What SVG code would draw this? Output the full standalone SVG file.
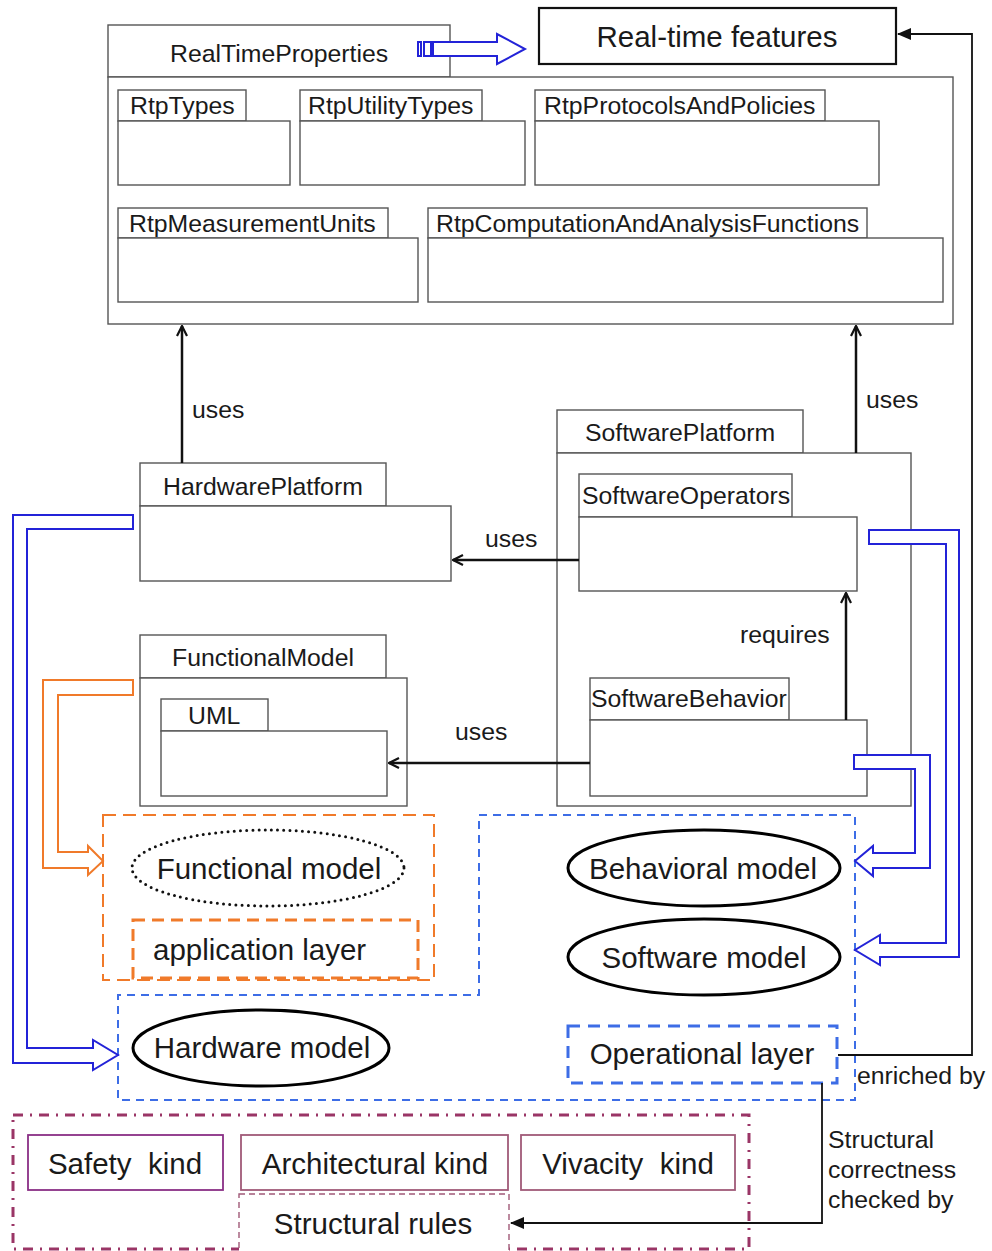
<svg xmlns="http://www.w3.org/2000/svg" width="992" height="1251" viewBox="0 0 992 1251">
<style>
.pk{fill:#fff;stroke:#555;stroke-width:1.4}
.t{font-family:"Liberation Sans",Arial,sans-serif;fill:#1a1a1a}
.s{font-size:24.8px}
.b{font-size:29.5px}
.ln{fill:none;stroke:#111;stroke-width:2.5}
.ln2{fill:none;stroke:#111;stroke-width:1.8}
.bar{fill:#fff;stroke:#2323d8;stroke-width:2}
.oar{fill:#fff;stroke:#f07a2a;stroke-width:2}
.ell{fill:#fff;stroke:#000;stroke-width:3}
</style>
<defs>
<marker id="open" viewBox="0 0 12 12" refX="11" refY="6" markerWidth="12" markerHeight="12" markerUnits="userSpaceOnUse" orient="auto">
<path d="M1,1 L11,6 L1,11" fill="none" stroke="#111" stroke-width="2.2"/>
</marker>
<marker id="fill" viewBox="0 0 14 12" refX="13" refY="6" markerWidth="14" markerHeight="12" markerUnits="userSpaceOnUse" orient="auto">
<path d="M0,0 L14,6 L0,12 Z" fill="#111"/>
</marker>
</defs>
<rect width="992" height="1251" fill="#fff"/>

<g id="RealTimeProperties">
<rect class="pk" x="108" y="25" width="342" height="52"/>
<rect class="pk" x="108" y="77" width="845" height="247"/>
<text class="t s" x="170" y="62">RealTimeProperties</text>
</g>
<g id="RtpTypes">
<rect class="pk" x="118" y="90" width="128" height="31"/>
<rect class="pk" x="118" y="121" width="172" height="64"/>
<text class="t s" x="130" y="114">RtpTypes</text>
</g>
<g id="RtpUtilityTypes">
<rect class="pk" x="300" y="90" width="182" height="31"/>
<rect class="pk" x="300" y="121" width="225" height="64"/>
<text class="t s" x="308" y="114">RtpUtilityTypes</text>
</g>
<g id="RtpProtocolsAndPolicies">
<rect class="pk" x="535" y="90" width="290" height="31"/>
<rect class="pk" x="535" y="121" width="344" height="64"/>
<text class="t s" x="544" y="114">RtpProtocolsAndPolicies</text>
</g>
<g id="RtpMeasurementUnits">
<rect class="pk" x="118" y="208" width="270" height="30"/>
<rect class="pk" x="118" y="238" width="300" height="64"/>
<text class="t s" x="129" y="232">RtpMeasurementUnits</text>
</g>
<g id="RtpComputationAndAnalysisFunctions">
<rect class="pk" x="428" y="208" width="439" height="30"/>
<rect class="pk" x="428" y="238" width="515" height="64"/>
<text class="t s" x="436" y="232">RtpComputationAndAnalysisFunctions</text>
</g>

<g id="RealTimeFeatures">
<rect x="539" y="8" width="357" height="56" fill="#fff" stroke="#111" stroke-width="2.2"/>
<text class="t" font-size="29.5" x="717" y="47" text-anchor="middle">Real-time features</text>
</g>

<g id="HardwarePlatform">
<rect class="pk" x="140" y="463" width="246" height="43"/>
<rect class="pk" x="140" y="506" width="311" height="75"/>
<text class="t s" x="163" y="495">HardwarePlatform</text>
</g>
<g id="FunctionalModel">
<rect class="pk" x="140" y="635" width="246" height="43"/>
<rect class="pk" x="140" y="678" width="267" height="128"/>
<text class="t s" x="172" y="666">FunctionalModel</text>
</g>
<g id="UML">
<rect class="pk" x="161" y="699" width="107" height="32"/>
<rect class="pk" x="161" y="731" width="226" height="65"/>
<text class="t s" x="188" y="724">UML</text>
</g>
<g id="SoftwarePlatform">
<rect class="pk" x="557" y="410" width="246" height="43"/>
<rect class="pk" x="557" y="453" width="354" height="353"/>
<text class="t s" x="585" y="441">SoftwarePlatform</text>
</g>
<g id="SoftwareOperators">
<rect class="pk" x="579" y="474" width="213" height="43"/>
<rect class="pk" x="579" y="517" width="278" height="74"/>
<text class="t s" x="582" y="504">SoftwareOperators</text>
</g>
<g id="SoftwareBehavior">
<rect class="pk" x="590" y="678" width="199" height="42"/>
<rect class="pk" x="590" y="720" width="277" height="76"/>
<text class="t s" x="591" y="707">SoftwareBehavior</text>
</g>

<g id="ApplicationArea">
<rect x="103" y="815" width="331" height="165" fill="none" stroke="#f07a2a" stroke-width="2" stroke-dasharray="13 7"/>
</g>
<g id="FunctionalModelEllipse">
<ellipse cx="268" cy="868" rx="136" ry="38" fill="none" stroke="#111" stroke-width="3" stroke-dasharray="0 6.2" stroke-linecap="round"/>
<text class="t b" x="269" y="879" text-anchor="middle">Functional model</text>
</g>
<g id="ApplicationLayer">
<rect x="133" y="920" width="285" height="58" fill="none" stroke="#f07a2a" stroke-width="3" stroke-dasharray="12 7"/>
<text class="t b" x="153" y="960">application layer</text>
</g>

<g id="OperationalArea">
<path d="M479,815 H855 V1100 H118 V995 H479 Z" fill="none" stroke="#3d6de6" stroke-width="2" stroke-dasharray="8 6"/>
</g>
<g id="BehavioralModel">
<ellipse class="ell" cx="704" cy="868" rx="136" ry="38"/>
<text class="t b" x="703" y="879" text-anchor="middle">Behavioral model</text>
</g>
<g id="SoftwareModel">
<ellipse class="ell" cx="704" cy="957" rx="136" ry="38"/>
<text class="t b" x="704" y="968" text-anchor="middle">Software model</text>
</g>
<g id="HardwareModel">
<ellipse class="ell" cx="261" cy="1048" rx="128" ry="38"/>
<text class="t b" x="262" y="1058" text-anchor="middle">Hardware model</text>
</g>
<g id="OperationalLayer">
<rect x="568" y="1026" width="269" height="57" fill="#fff" stroke="#3d6de6" stroke-width="3" stroke-dasharray="12 8"/>
<text class="t b" x="702" y="1064" text-anchor="middle">Operational layer</text>
</g>

<g id="RulesArea">
<rect x="13" y="1115" width="736" height="134" fill="none" stroke="#9a3566" stroke-width="3" stroke-dasharray="10 7 2 7"/>
</g>
<g id="SafetyKind">
<rect x="28" y="1135" width="195" height="55" fill="#fff" stroke="#8a2f86" stroke-width="1.8"/>
<text class="t b" x="125" y="1174" text-anchor="middle" xml:space="preserve">Safety  kind</text>
</g>
<g id="ArchitecturalKind">
<rect x="241" y="1135" width="267" height="55" fill="#fff" stroke="#a05a78" stroke-width="1.8"/>
<text class="t b" x="375" y="1174" text-anchor="middle">Architectural kind</text>
</g>
<g id="VivacityKind">
<rect x="521" y="1135" width="214" height="55" fill="#fff" stroke="#a05a78" stroke-width="1.8"/>
<text class="t b" x="628" y="1174" text-anchor="middle" xml:space="preserve">Vivacity  kind</text>
</g>
<g id="StructuralRules">
<rect x="239" y="1194" width="270" height="62" fill="#fff" stroke="#a05a78" stroke-width="1.4" stroke-dasharray="6 4"/>
<text class="t b" x="373" y="1234" text-anchor="middle">Structural rules</text>
</g>

<g id="connectors">
<path class="ln" d="M182,463 V326" marker-end="url(#open)"/>
<text class="t s" x="192" y="418">uses</text>
<path class="ln" d="M856,453 V326" marker-end="url(#open)"/>
<text class="t s" x="866" y="408">uses</text>
<path class="ln" d="M579,560 H453" marker-end="url(#open)"/>
<text class="t s" x="485" y="547">uses</text>
<path class="ln" d="M590,763 H389" marker-end="url(#open)"/>
<text class="t s" x="455" y="740">uses</text>
<path class="ln" d="M846,720 V593" marker-end="url(#open)"/>
<text class="t s" x="740" y="643">requires</text>

<path class="ln2" d="M838,1055 H972 V34 H898" marker-end="url(#fill)"/>
<text class="t s" x="857" y="1084">enriched by</text>
<path class="ln2" d="M822,1083 V1223 H511" marker-end="url(#fill)"/>
<text class="t s" x="828" y="1148">Structural</text>
<text class="t s" x="828" y="1178">correctness</text>
<text class="t s" x="828" y="1208">checked by</text>

<rect class="bar" x="418" y="42" width="3" height="14"/>
<rect class="bar" x="424" y="42" width="7" height="14"/>
<polygon class="bar" points="433,42 497,42 497,34 525,49 497,64 497,56 433,56"/>

<polygon class="bar" points="869,530 959,530 959,957 880,957 880,965 855,950 880,935 880,943 946,943 946,544 869,544"/>
<polygon class="bar" points="854,755 930,755 930,868 873,868 873,876 855,861 873,846 873,853 915,853 915,769 854,769"/>
<polygon class="bar" points="133,515 13,515 13,1063 93,1063 93,1070 118,1055 93,1040 93,1048 27,1048 27,529 133,529"/>
<polygon class="oar" points="133,680 43,680 43,868 88,868 88,875 103,861 88,846 88,852 58,852 58,695 133,695"/>
</g>
</svg>
